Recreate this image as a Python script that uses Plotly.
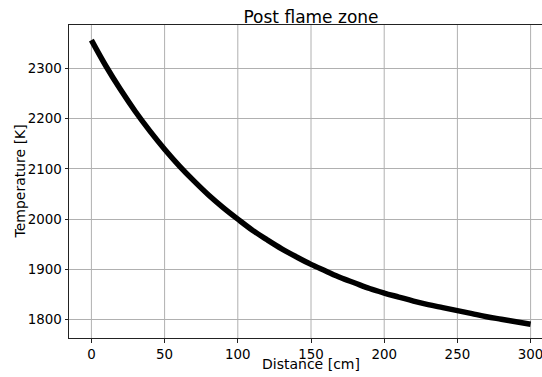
import plotly.graph_objects as go

distance_cm = [0, 10, 20, 30, 40, 50, 60, 70, 80, 90, 100, 110, 120, 130, 140, 150,
               160, 170, 180, 190, 200, 210, 220, 230, 240, 250, 260, 270, 280, 290, 300]
temperature_K = [2356, 2304, 2257, 2214, 2175, 2139, 2106, 2076, 2048, 2023, 2000,
                 1978, 1959, 1941, 1925, 1910, 1897, 1884, 1873, 1862, 1853, 1845,
                 1837, 1830, 1824, 1818, 1812, 1806, 1801, 1796, 1791]
x_ticks = [0, 50, 100, 150, 200, 250, 300]
y_ticks = [1800, 1900, 2000, 2100, 2200, 2300]

FONT = "DejaVu Sans"
W, H = 553, 377
L, R, T, B = 69, 0, 25, 39
GRID = "#b0b0b0"
SPINE = "#222222"

fig = go.Figure()
fig.add_trace(go.Scatter(x=distance_cm, y=temperature_K, mode="lines",
                         line=dict(color="black", width=5.5, shape="spline"),
                         showlegend=False, hoverinfo="skip"))

fig.update_layout(
    width=W, height=H,
    margin=dict(l=L, r=R, t=T, b=B, autoexpand=False),
    paper_bgcolor="white", plot_bgcolor="white",
    font=dict(family=FONT, size=13.4, color="black"),
    title=dict(text="Post flame zone", x=311/W, xref="container", xanchor="center",
               y=1 - 23/H, yref="container", yanchor="bottom",
               font=dict(family=FONT, size=17, color="black")),
    xaxis=dict(range=[-15.3, 315.3], tickvals=x_ticks, ticktext=[str(v) for v in x_ticks],
               showgrid=False,
               showline=True, linecolor=SPINE, linewidth=1, mirror=True,
               ticks="outside", ticklen=3.5, tickcolor=SPINE, tickwidth=1,
               ticklabeloverflow="allow",
               zeroline=False, automargin=False),
    yaxis=dict(range=[1763.6, 2386], tickvals=y_ticks, ticktext=[str(v) for v in y_ticks],
               showgrid=True, gridcolor=GRID, gridwidth=1,
               showline=True, linecolor=SPINE, linewidth=1, mirror=False,
               ticks="outside", ticklen=3.5, tickcolor=SPINE, tickwidth=1,
               ticklabeloverflow="allow",
               zeroline=False, automargin=False),
)

# vertical grid lines placed on the x scale at the tick values
for xv in x_ticks:
    fig.add_shape(type="line", xref="x", yref="paper", x0=xv, x1=xv, y0=0, y1=1,
                  line=dict(color=GRID, width=1), layer="below")

fig.add_annotation(text="Distance [cm]", xref="paper", yref="paper",
                   x=(311 - L) / (W - L - R), y=-(373.5 - (H - B)) / (H - T - B),
                   xanchor="center", yanchor="bottom", showarrow=False,
                   font=dict(family=FONT, size=14, color="black"))
fig.add_annotation(text="Temperature [K]", xref="paper", yref="paper",
                   x=-(L - 19) / (W - L - R), y=0.5, textangle=-90,
                   xanchor="center", yanchor="middle", showarrow=False,
                   font=dict(family=FONT, size=14, color="black"))

fig.write_html("out.html", config={"displayModeBar": False},
               post_script="document.documentElement.style.overflow='hidden';"
                           "document.body.style.margin='0';document.body.style.overflow='hidden';")
